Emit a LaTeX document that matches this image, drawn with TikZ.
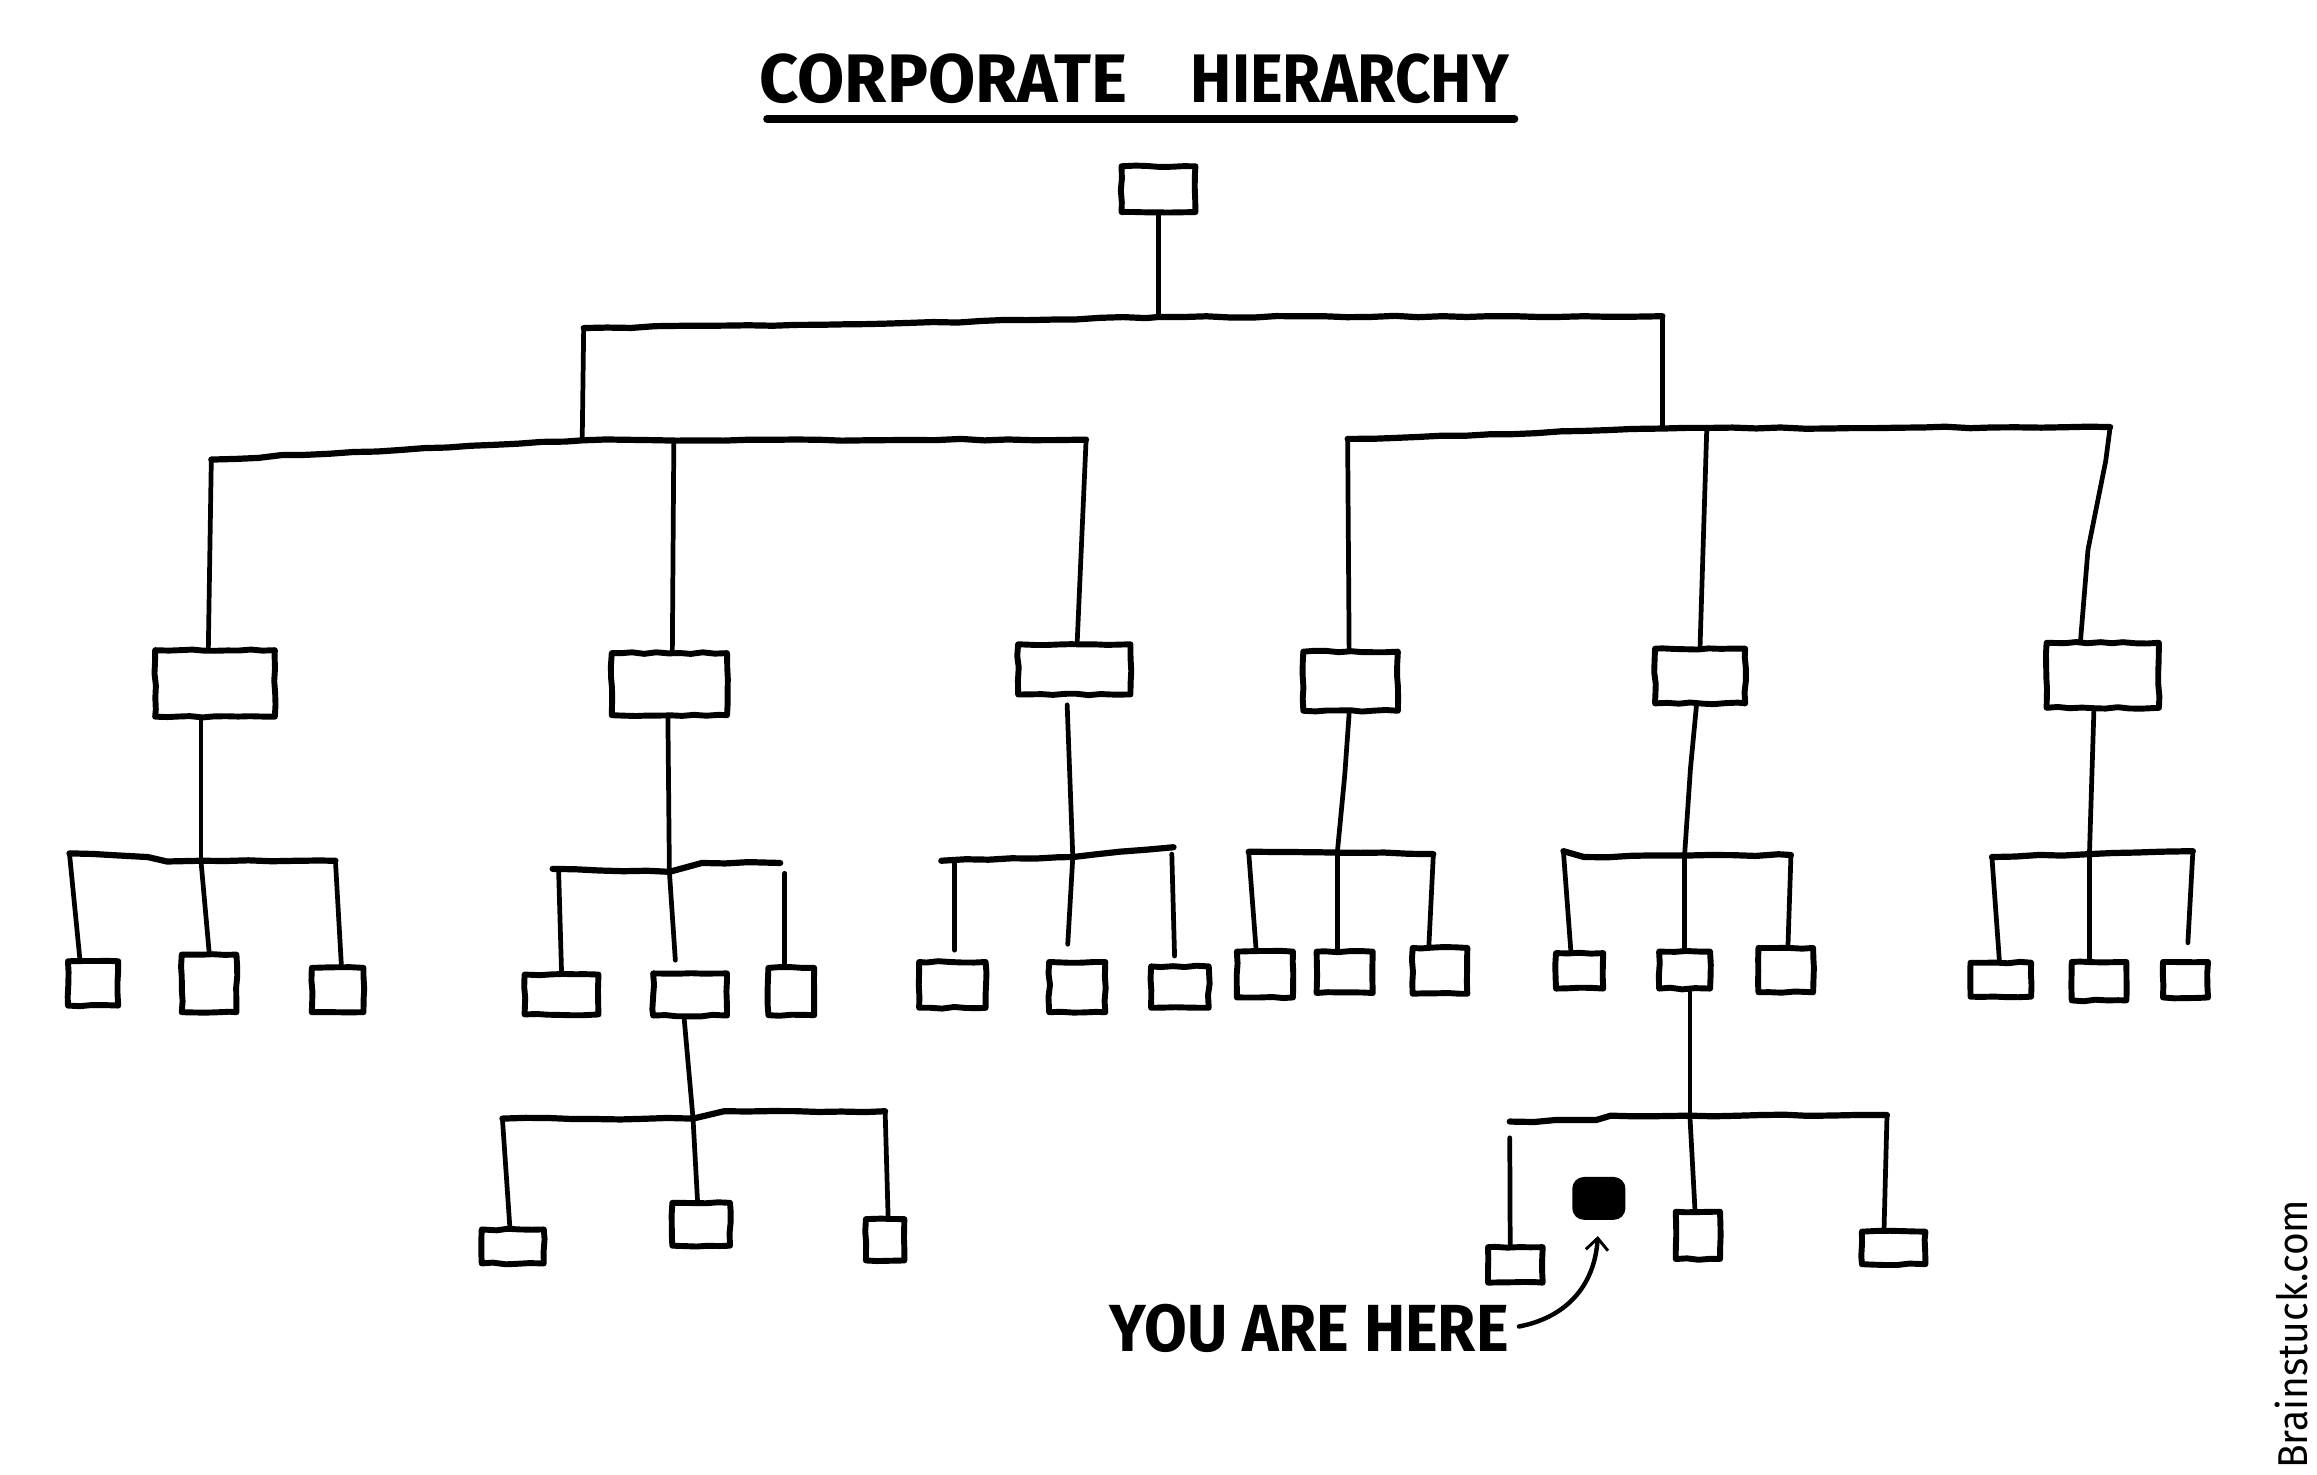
\documentclass[tikz,border=0pt]{standalone}
\usepackage{fontspec}
\usepackage{graphicx}
\usetikzlibrary{arrows.meta,decorations.pathmorphing,calc}
\newfontfamily\handfont{Fira Sans}
\begin{document}
\pgfmathsetseed{11}
\begin{tikzpicture}[x=1pt,y=-1pt,
  bar/.style={line width=4.2pt, line cap=round, line join=round,
    decorate, decoration={random steps, segment length=16pt, amplitude=0.6pt}},
  link/.style={line width=3.2pt, line cap=round, line join=round},
  box/.style={draw, line width=4pt, inner sep=0pt, line join=round,
    decorate, decoration={random steps, segment length=8pt, amplitude=0.6pt}},
  bs/.style 2 args={minimum width=#1pt, minimum height=#2pt},
  mebox/.style={draw, fill=black, line width=2pt, rounded corners=7pt, inner sep=0pt},
  arrowline/.style={line width=3pt, line cap=round,
    -{Straight Barb[length=8pt, width=15pt, line width=2pt]}},
  label/.style={inner sep=0pt, outer sep=0pt}
]
\useasboundingbox (0,0) rectangle (1568,998);
\fill[white] (0,0) rectangle (1568,998);

% ---- title ----
\node[label] (title) at (767.5,53.5)
  {\handfont\bfseries\resizebox{249pt}{33pt}{CORPORATE}\hspace{43pt}\resizebox{215pt}{33pt}{HIERARCHY}};
\draw[line width=5pt, line cap=round] (519,80.5) -- (1025,80.5);

% ---- boxes ----
\node[box, bs={50}{31}] (T) at (784,128) {};

\node[box, bs={81}{45}] (A) at (145.5,462.5) {};
\node[box, bs={78}{42}] (B) at (453,463) {};
\node[box, bs={76}{34}] (C) at (727,453) {};
\node[box, bs={64}{40}] (D) at (914,461) {};
\node[box, bs={61}{37}] (E) at (1150.5,457.5) {};
\node[box, bs={76}{44}] (F) at (1423,457) {};

\node[box, bs={34}{30}] (a1) at (63,665.5) {};
\node[box, bs={37}{39}] (a2) at (141.5,665.5) {};
\node[box, bs={35}{30}] (a3) at (228.5,670) {};
\node[box, bs={50}{27}] (b1) at (380,673) {};
\node[box, bs={50}{28.5}] (b2) at (467,673) {};
\node[box, bs={31}{32}] (b3) at (535.5,671) {};
\node[box, bs={45}{31}] (c1) at (644.5,666.5) {};
\node[box, bs={38}{34}] (c2) at (729,668) {};
\node[box, bs={39}{28}] (c3) at (798.5,668) {};
\node[box, bs={38}{31}] (d1) at (856,659.5) {};
\node[box, bs={38}{28}] (d2) at (910,658) {};
\node[box, bs={37}{31}] (d3) at (974.5,657) {};
\node[box, bs={32}{24}] (e1) at (1069,657) {};
\node[box, bs={34.5}{25}] (e2) at (1140,656.5) {};
\node[box, bs={37}{30}] (e3) at (1208.5,656.5) {};
\node[box, bs={41}{23}] (f1) at (1354,663) {};
\node[box, bs={37}{26}] (f2) at (1420.5,664) {};
\node[box, bs={30.5}{24}] (f3) at (1479,663) {};

\node[box, bs={42}{23}] (g1) at (347,843.5) {};
\node[box, bs={39}{29}] (g2) at (474.5,828.5) {};
\node[box, bs={26}{28}] (g3) at (599,839) {};

\node[box, bs={37}{24}] (h1) at (1025.5,856) {};
\node[mebox, minimum width=34pt, minimum height=27pt] (me) at (1082,811) {};
\node[box, bs={30}{32}] (h3) at (1149,836) {};
\node[box, bs={43}{22}] (h4) at (1281.5,844.5) {};

% ---- junction coordinates ----
\coordinate (J0) at (784,214.5);
\coordinate (L1) at (395,222);
\coordinate (R1) at (1125,214);
\coordinate (J1) at (394,298);
\coordinate (La) at (143,311);
\coordinate (Lc) at (735,297.5);
\coordinate (Lb) at (456,298.5);
\coordinate (J2) at (1125,290);
\coordinate (Rd) at (912,297);
\coordinate (Re) at (1155,291);
\coordinate (Rf) at (1428,289);

\coordinate (Ka) at (136,582.5);  \coordinate (Ka1) at (47,577.5);  \coordinate (Ka3) at (227,582.5);
\coordinate (Kb) at (453,590);    \coordinate (Kb1) at (378,588);   \coordinate (Kb3) at (531,591);
\coordinate (Kc) at (726,580);    \coordinate (Kc1) at (646,582.5); \coordinate (Kc3) at (793,578);
\coordinate (Kd) at (905,577);    \coordinate (Kd1) at (845,576.4); \coordinate (Kd3) at (970,578);
\coordinate (Ke) at (1140,579);   \coordinate (Ke1) at (1058,576);  \coordinate (Ke3) at (1212,578.6);
\coordinate (Kf) at (1414,578);   \coordinate (Kf1) at (1348,580);  \coordinate (Kf3) at (1484,576);
\coordinate (Kg) at (469,757);    \coordinate (Kg1) at (340,757);   \coordinate (Kg3) at (599,752);
\coordinate (Kh) at (1143.6,755); \coordinate (Kh1) at (1021.7,770); \coordinate (Kh3) at (1277,754.6);

% ---- level 0 -> 1 ----
\draw[link] (T.south) -- (J0);
\draw[bar] (L1) -- (600,219) -- (J0) -- (R1);
\draw[link] (L1) -- (J1);
\draw[link] (R1) -- (J2);

% ---- level 1 -> 2 ----
\draw[bar] (La) -- (J1) -- (Lc);
\draw[link] (La) -- ([xshift=-4.5pt]A.north);
\draw[link] (Lb) -- ([xshift=2pt]B.north);
\draw[link] (Lc) -- ([xshift=2pt]C.north);

\draw[bar] (Rd) -- (J2) -- (Rf);
\draw[link] (Rd) -- ([xshift=-1pt]D.north);
\draw[link] (Re) -- (E.north);
\draw[link] (Rf) -- (1425,312) -- (1413,372) -- ([xshift=-15pt]F.north);

% ---- level 2 -> 3 ----
\draw[link] ([xshift=-9.5pt]A.south) -- (Ka);
\draw[bar] (Ka1) -- (100,580) -- (113,583) -- (Ka) -- (Ka3);
\draw[link] (Ka1) -- ([xshift=-9pt]a1.north);
\draw[link] (Ka) -- (a2.north);
\draw[link] (Ka3) -- ([xshift=2.5pt]a3.north);

\draw[link] ([xshift=-1pt]B.south) -- (Kb);
\draw[bar] (374,588) -- (Kb) -- (475,584) -- (528,584);
\draw[link] (Kb1) -- (b1.north);
\draw[link, shorten >=7pt] (Kb) -- ([xshift=-9.5pt]b2.north);
\draw[link] (Kb3) -- ([xshift=-4.5pt]b3.north);

\draw[link, shorten <=5pt] ([xshift=-5pt]C.south) -- (Kc);
\draw[bar] (637,582.5) -- (Kc) -- (776,575) -- (787,574) -- (Kc3);
\draw[link, shorten >=6pt] (Kc1) -- ([xshift=1.5pt]c1.north);
\draw[link, shorten >=10pt] (Kc) -- ([xshift=-7pt]c2.north);
\draw[link, shorten >=5pt] (Kc3) -- ([xshift=-3.5pt]c3.north);

\draw[link] ([xshift=-1pt]D.south) -- (910,525) -- (Kd);
\draw[bar] (Kd1) -- (Kd) -- (Kd3);
\draw[link] (Kd1) -- ([xshift=-6pt]d1.north);
\draw[link] (Kd) -- ([xshift=-5pt]d2.north);
\draw[link] (Kd3) -- ([xshift=-7.5pt]d3.north);

\draw[link] ([xshift=-2.5pt]E.south) -- (1144,520) -- (Ke);
\draw[bar] (Ke1) -- (1072,580) -- (Ke) -- (Ke3);
\draw[link] (Ke1) -- ([xshift=-6pt]e1.north);
\draw[link] (Ke) -- (e2.north);
\draw[link] (Ke3) -- ([xshift=1.5pt]e3.north);

\draw[link] ([xshift=-6pt]F.south) -- (Kf);
\draw[bar] (Kf1) -- (Kf) -- (Kf3);
\draw[link] (Kf1) -- ([xshift=-1pt]f1.north);
\draw[link] (Kf) -- ([xshift=-6.5pt]f2.north);
\draw[link, shorten >=11pt] (Kf3) -- ([xshift=1pt]f3.north);

% ---- level 3 -> 4 ----
\draw[link] ([xshift=-4pt]b2.south) -- (Kg);
\draw[bar] (Kg1) -- (Kg) -- (490,752) -- (Kg3);
\draw[link] (Kg1) -- ([xshift=-2pt]g1.north);
\draw[link] (Kg) -- ([xshift=-2.5pt]g2.north);
\draw[link] (Kg3) -- ([xshift=2pt]g3.north);

\draw[link] ([xshift=3.6pt]e2.south) -- (Kh);
\draw[bar] (1021.7,759) -- (1080,758) -- (1090,755) -- (Kh) -- (Kh3);
\draw[link] (Kh1) -- ([xshift=-3.5pt]h1.north);
\draw[link] (Kh) -- ([xshift=-2pt]h3.north);
\draw[link] (Kh3) -- ([xshift=-6.5pt]h4.north);

% ---- you are here ----
\node[label] (you) at (886,899)
  {\handfont\bfseries\resizebox{270pt}{32pt}{YOU ARE HERE}};
\draw[arrowline, shorten <=7pt, shorten >=11pt]
  (you.east) .. controls (1058,892) and (1079,872) .. (me.south);

% ---- credit ----
\node[label, rotate=90] (credit) at (1551,903)
  {\handfont\resizebox{182pt}{22pt}{Brainstuck.com}};
\end{tikzpicture}
\end{document}
